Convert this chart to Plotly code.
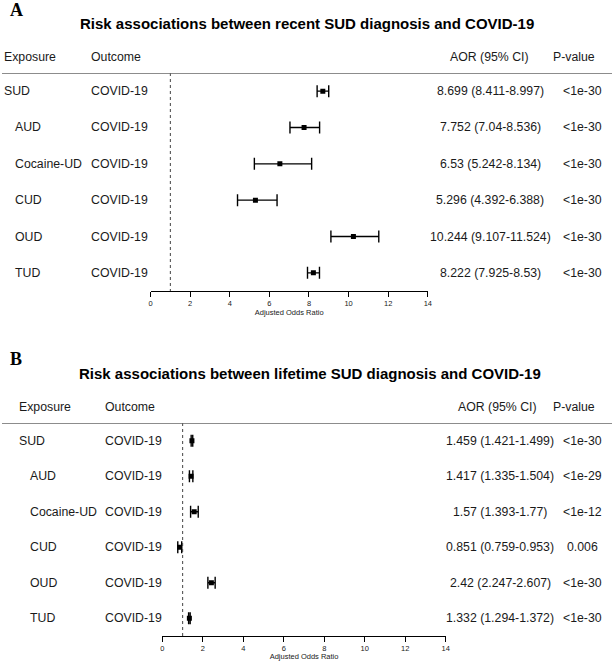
import plotly.graph_objects as go

W, H = 616, 661

# ---------------- data ----------------
exposures = ["SUD", "AUD", "Cocaine-UD", "CUD", "OUD", "TUD"]
outcomes = ["COVID-19"] * 6

recent_aor = [8.699, 7.752, 6.53, 5.296, 10.244, 8.222]
recent_lo = [8.411, 7.04, 5.242, 4.392, 9.107, 7.925]
recent_hi = [8.997, 8.536, 8.134, 6.388, 11.524, 8.53]
recent_p = ["<1e-30", "<1e-30", "<1e-30", "<1e-30", "<1e-30", "<1e-30"]

lifetime_aor = [1.459, 1.417, 1.57, 0.851, 2.42, 1.332]
lifetime_lo = [1.421, 1.335, 1.393, 0.759, 2.247, 1.294]
lifetime_hi = [1.499, 1.504, 1.77, 0.953, 2.607, 1.372]
lifetime_p = ["<1e-30", "<1e-29", "<1e-12", "0.006", "<1e-30", "<1e-30"]

x_ticks = [0, 2, 4, 6, 8, 10, 12, 14]
ref_line = 1
header_cols = ["Exposure", "Outcome", "AOR (95% CI)", "P-value"]
titles = ["Risk associations between recent SUD diagnosis and COVID-19",
          "Risk associations between lifetime SUD diagnosis and COVID-19"]
panel_labels = ["A", "B"]
axis_title = "Adjusted Odds Ratio"

# ---------------- helpers ----------------
def px(x):
    return x / W

def py(y):
    return 1 - y / H

TXT = "#1a1a1a"
FONT = "Liberation Sans, Arial, sans-serif"
FS = 12.3

panels = [
    dict(aor=recent_aor, lo=recent_lo, hi=recent_hi, p=recent_p,
         top=73, bottom=291, xl=150, xr=430,
         exp_x=0, indent=11, out_x=88, aor_x=493, p_x=586,
         hdr_aor_x=492, hdr_p_x=578, title_x=308, title_y=23,
         lab_x=6, lab_y=10,
         xa="xaxis", ya="yaxis", xr_="x", yr_="y"),
    dict(aor=lifetime_aor, lo=lifetime_lo, hi=lifetime_hi, p=lifetime_p,
         top=423, bottom=636, xl=162, xr=448,
         exp_x=15, indent=11, out_x=102, aor_x=503, p_x=586,
         hdr_aor_x=500, hdr_p_x=578, title_x=311, title_y=373,
         lab_x=6, lab_y=359,
         xa="xaxis2", ya="yaxis2", xr_="x2", yr_="y2"),
]

fig = go.Figure()
annotations = []
shapes = []
layout_axes = {}

for k, P in enumerate(panels):
    rows = list(range(len(exposures)))
    err_plus = [h - a for h, a in zip(P["hi"], P["aor"])]
    err_minus = [a - l for a, l in zip(P["aor"], P["lo"])]
    fig.add_trace(go.Scatter(
        x=P["aor"], y=rows, mode="markers",
        xaxis=P["xr_"], yaxis=P["yr_"],
        marker=dict(symbol="square", size=5, color="black"),
        error_x=dict(type="data", symmetric=False, array=err_plus,
                     arrayminus=err_minus, width=6, thickness=1.4,
                     color="black"),
        showlegend=False, hoverinfo="x+y",
    ))

    layout_axes[P["xa"]] = dict(
        domain=[px(P["xl"]), px(P["xr"])], range=[0, 14],
        anchor=P["yr_"], tickvals=x_ticks, ticktext=[str(t) for t in x_ticks],
        showline=True, linecolor="black", linewidth=1,
        ticks="outside", ticklen=5, tickwidth=1, tickcolor="black",
        tickfont=dict(size=7.5, color="#222", family=FONT),
        showgrid=False, zeroline=False,
        title=dict(text=axis_title, font=dict(size=7.5, color="#222", family=FONT),
                   standoff=1),
    )
    layout_axes[P["ya"]] = dict(
        domain=[py(P["bottom"]), py(P["top"])], range=[len(rows) - 0.5, -0.5],
        anchor=P["xr_"], visible=False, showgrid=False, zeroline=False,
    )

    # reference (null) line
    shapes.append(dict(type="line", xref=P["xr_"], yref=P["yr_"],
                       x0=ref_line, x1=ref_line, y0=-0.5, y1=len(rows) - 0.5,
                       line=dict(color="#444", width=1, dash="3px,3px")))
    # header rule
    shapes.append(dict(type="line", xref="paper", yref=P["yr_"],
                       x0=0, x1=1, y0=-0.5, y1=-0.5,
                       line=dict(color="#666", width=1.5)))

    # title and panel letter
    annotations.append(dict(text=titles[k], xref="paper", yref="paper",
                            x=px(P["title_x"]), y=py(P["title_y"]),
                            xanchor="center", yanchor="middle", showarrow=False,
                            font=dict(size=15, color="black", family=FONT,
                                      weight="bold")))
    annotations.append(dict(text=panel_labels[k], xref="paper", yref="paper",
                            x=px(P["lab_x"]), y=py(P["lab_y"]),
                            xanchor="left", yanchor="middle", showarrow=False,
                            font=dict(size=18, color="black",
                                      family="Liberation Serif, Times New Roman, serif",
                                      weight="bold")))

    # header row
    hy = py(P["top"] - 16)
    hdr_pos = [(P["exp_x"], "left"), (P["out_x"], "left"),
               (P["hdr_aor_x"], "center"), (P["hdr_p_x"], "center")]
    for txt, (hx, anc) in zip(header_cols, hdr_pos):
        annotations.append(dict(text=txt, xref="paper", yref="paper",
                                x=px(hx), y=hy, xanchor=anc, yanchor="middle",
                                showarrow=False,
                                font=dict(size=FS, color=TXT, family=FONT)))

    # table rows
    for i, r in enumerate(rows):
        ex = P["exp_x"] + (P["indent"] if i > 0 else 0)
        ci_txt = f"{P['aor'][i]} ({P['lo'][i]}-{P['hi'][i]})"
        cells = [(exposures[i], ex, "left"), (outcomes[i], P["out_x"], "left"),
                 (ci_txt, P["aor_x"], "center"), (P["p"][i], P["p_x"], "center")]
        for txt, cx, anc in cells:
            annotations.append(dict(text=txt, xref="paper", yref=P["yr_"],
                                    x=px(cx), y=r, xanchor=anc, yanchor="middle",
                                    showarrow=False,
                                    font=dict(size=FS, color=TXT, family=FONT)))

fig.update_layout(
    width=W, height=H, margin=dict(l=0, r=0, t=0, b=0),
    paper_bgcolor="white", plot_bgcolor="white",
    annotations=annotations, shapes=shapes, **layout_axes,
)

fig.write_html("out.html",
               config={"displayModeBar": False},
               post_script="document.body.style.margin='0';"
                           "document.body.style.overflow='hidden';")
